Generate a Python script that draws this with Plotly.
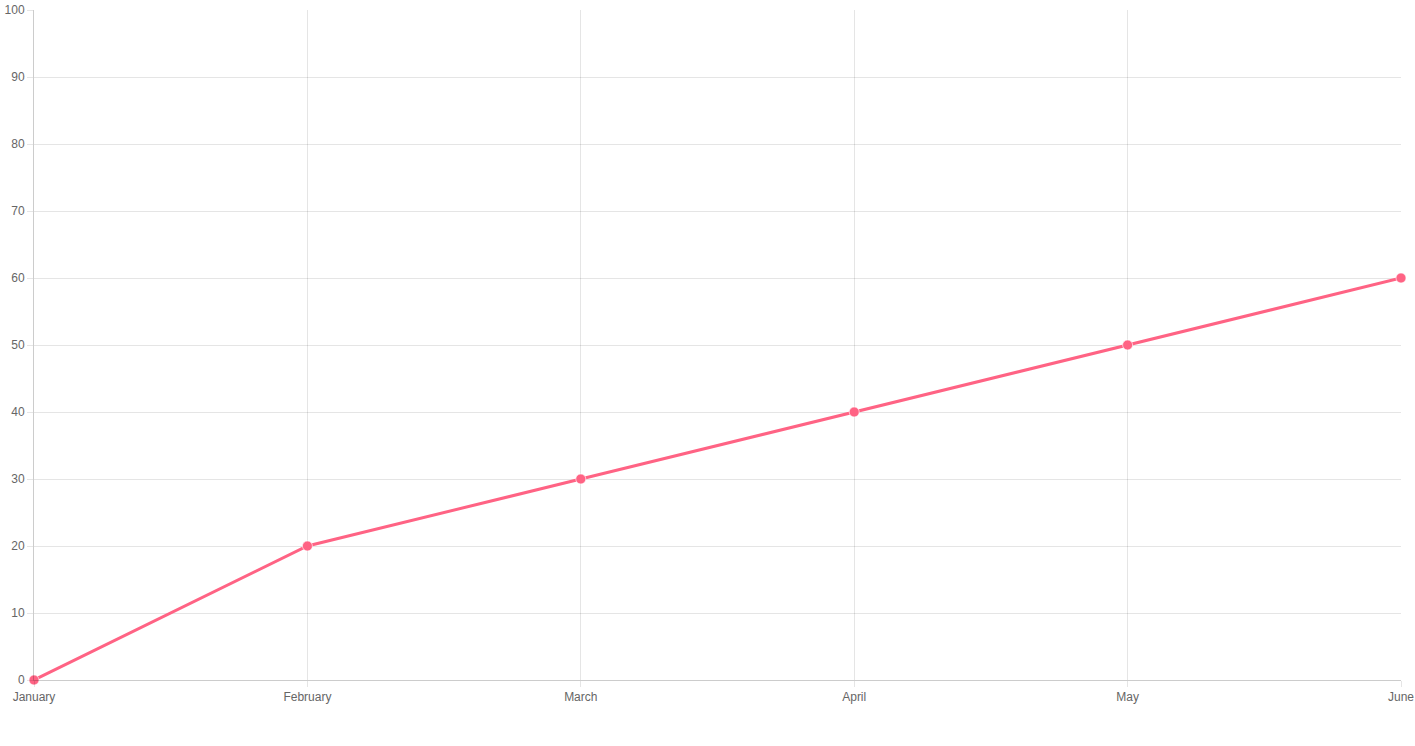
import plotly.graph_objects as go

months = ["January", "February", "March", "April", "May", "June"]
values = [0, 20, 30, 40, 50, 60]
y_ticks = [0, 10, 20, 30, 40, 50, 60, 70, 80, 90, 100]

fig = go.Figure()
fig.add_trace(go.Scatter(
    x=list(range(len(months))), y=values, mode="lines+markers",
    line=dict(color="rgb(255,99,132)", width=3),
    marker=dict(color="rgb(255,99,132)", size=10, line=dict(color="rgba(255,255,255,0.6)", width=1)),
    cliponaxis=False, hoverinfo="skip",
))

grid = "rgba(0,0,0,0.1)"
fig.update_layout(
    width=1415, height=746,
    margin=dict(l=34, r=14, t=10, b=66, autoexpand=False),
    paper_bgcolor="white", plot_bgcolor="white",
    showlegend=False,
    font=dict(family="Liberation Sans, Arial, sans-serif", size=12, color="#666"),
    xaxis=dict(
        range=[0, 5], tickmode="array", tickvals=list(range(len(months))), ticktext=months,
        showgrid=True, gridcolor=grid, gridwidth=1,
        ticks="outside", ticklen=6, tickcolor=grid,
        showline=True, linecolor="rgba(0,0,0,0.2)", linewidth=1, mirror=False,
        zeroline=False, fixedrange=True, automargin=False,
    ),
    yaxis=dict(
        range=[0, 100], tickmode="array", tickvals=y_ticks,
        showgrid=True, gridcolor=grid, gridwidth=1,
        ticks="outside", ticklen=6, tickcolor=grid,
        showline=True, linecolor="rgba(0,0,0,0.2)", linewidth=1,
        zeroline=False, fixedrange=True, automargin=False,
    ),
)
fig.write_html("out.html", config={"displayModeBar": False},
               post_script="document.body.style.margin='0';document.body.style.overflow='hidden';")
